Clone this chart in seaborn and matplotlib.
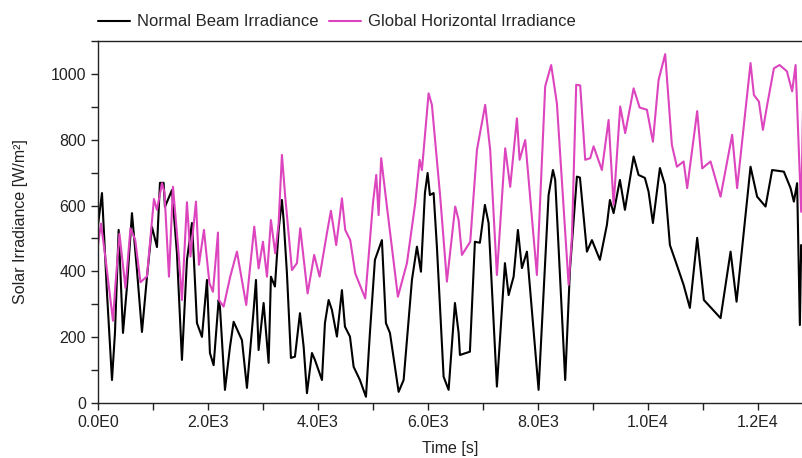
import numpy as np
import pandas as pd

import matplotlib
matplotlib.use("Agg")
import matplotlib.pyplot as plt
import matplotlib.ticker as mticker
import seaborn as sns

# Normal Beam Irradiance (time [s], W/m2)
beam_t = [0, 73, 164, 255, 309, 376, 455, 527, 618, 709, 800, 891, 982, 1073,
          1127, 1194, 1218, 1345, 1436, 1527, 1618, 1709, 1745, 1800, 1891,
          1982, 2036, 2103, 2194, 2218, 2309, 2400, 2467, 2558, 2618, 2709,
          2764, 2831, 2873, 2921, 3012, 3103, 3145, 3218, 3285, 3345, 3376,
          3436, 3509, 3582, 3673, 3740, 3800, 3891, 3945, 4073, 4127, 4194,
          4254, 4345, 4436, 4491, 4582, 4649, 4763, 4873, 4945, 5036, 5163,
          5236, 5309, 5467, 5558, 5709, 5800, 5873, 5945, 5994, 6036, 6103,
          6163, 6285, 6376, 6491, 6558, 6582, 6763, 6854, 6945, 7036, 7103,
          7254, 7400, 7467, 7558, 7636, 7709, 7800, 8012, 8194, 8273, 8314,
          8496, 8582, 8709, 8764, 8891, 8982, 9127, 9254, 9309, 9376, 9491,
          9582, 9740, 9830, 9945, 10012, 10091, 10218, 10309, 10400, 10527,
          10649, 10763, 10896, 11018, 11321, 11503, 11612, 11866, 11986,
          12139, 12259, 12472, 12594, 12654, 12713, 12763, 12787, 12818]
beam_w = [540, 638, 334, 70, 213, 526, 213, 353, 577, 404, 216, 383, 535, 474,
          669, 669, 596, 647, 456, 131, 435, 547, 435, 243, 201,
          374, 152, 115, 313, 292, 40, 170, 247, 213, 191, 46,
          152, 283, 374, 161, 304, 122, 384, 354, 526, 617, 556,
          395, 137, 141, 273, 171, 30, 152, 131, 70, 243, 313,
          283, 202, 343, 232, 202, 110, 70, 19, 213, 435, 495,
          243, 213, 34, 70, 374, 475, 399, 638, 699, 632, 638,
          475, 80, 40, 304, 213, 146, 156, 490, 487, 602, 547,
          50, 425, 328, 384, 526, 410, 460, 40, 632, 708, 678,
          70, 404, 688, 685, 460, 495, 435, 541, 617, 577, 678,
          587, 749, 693, 684, 642, 547, 714, 663, 480, 419,
          359, 289, 502, 313, 258, 460, 308, 718, 627,
          597, 708, 703, 653, 612, 668, 237, 480, 430]

# Global Horizontal Irradiance (time [s], W/m2)
ghi_t = [0, 55, 133, 273, 315, 391, 500, 591, 678, 773, 891, 1018, 1073, 1164,
         1209, 1291, 1364, 1464, 1527, 1618, 1682, 1782, 1836, 1927, 2027,
         2091, 2182, 2200, 2285, 2405, 2527, 2696, 2842, 2921, 3000, 3073,
         3145, 3223, 3285, 3345, 3405, 3527, 3618, 3678, 3812, 3932, 4030,
         4163, 4236, 4332, 4382, 4436, 4496, 4587, 4678, 4860, 5000, 5060,
         5103, 5150, 5254, 5454, 5618, 5769, 5849, 5891, 6012, 6072, 6223,
         6345, 6496, 6558, 6618, 6769, 6891, 7041, 7132, 7254, 7405, 7496,
         7618, 7667, 7769, 7981, 8132, 8241, 8345, 8558, 8618, 8696, 8769,
         8860, 8951, 9012, 9163, 9285, 9376, 9496, 9587, 9740, 9849, 9982,
         10091, 10194, 10314, 10436, 10527, 10649, 10714, 10896, 10987,
         11139, 11321, 11532, 11622, 11866, 11927, 12018, 12091, 12169,
         12291, 12394, 12527, 12623, 12685, 12745, 12787, 12823]
ghi_w = [480, 545, 445, 250, 354, 514, 350, 531, 495, 367, 385, 620, 587, 668,
         640, 384, 657, 460, 313, 610, 445, 612, 420, 526, 364,
         338, 518, 313, 293, 384, 460, 298, 536, 409, 490, 384,
         556, 455, 546, 754, 627, 404, 425, 531, 333, 450, 384,
         516, 584, 480, 546, 622, 526, 495, 394, 318, 607, 693,
         571, 744, 597, 323, 425, 607, 739, 708, 941, 906, 627,
         369, 597, 556, 450, 490, 769, 906, 769, 389, 774, 657,
         865, 739, 799, 389, 962, 1027, 910, 359, 505, 967, 965,
         739, 744, 780, 708, 860, 602, 901, 820, 956, 898, 891,
         794, 982, 1060, 784, 718, 734, 653, 887, 713,
         734, 627, 815, 653, 1033, 936, 916, 830, 906,
         1017, 1027, 1008, 947, 1027, 764, 581, 916]

series_names = ["Normal Beam Irradiance", "Global Horizontal Irradiance"]
colors = ["#000000", "#dc45be"]

df = pd.concat([
    pd.DataFrame({"time": beam_t, "irr": beam_w, "series": series_names[0]}),
    pd.DataFrame({"time": ghi_t, "irr": ghi_w, "series": series_names[1]}),
], ignore_index=True)

sns.set_style("ticks")
plt.rcParams["font.family"] = ["Liberation Sans", "DejaVu Sans"]

fig = plt.figure(figsize=(8.03, 4.58), dpi=100)
ax = fig.add_axes([0.122, 0.12, 0.878, 0.7905])

sns.lineplot(
    data=df, x="time", y="irr", hue="series",
    palette=dict(zip(series_names, colors)),
    estimator=None, sort=False, linewidth=1.5, ax=ax
)


def sci_fmt(v, pos):
    if v == 0:
        return "0.0E0"
    e = int(np.floor(np.log10(abs(v))))
    return f"{v / 10**e:.1f}E{e}"


ax.set_xlim(0, 12820)
ax.set_ylim(0, 1100)
ax.xaxis.set_major_locator(mticker.MultipleLocator(2000))
ax.xaxis.set_minor_locator(mticker.MultipleLocator(1000))
ax.xaxis.set_major_formatter(mticker.FuncFormatter(sci_fmt))
ax.yaxis.set_major_locator(mticker.MultipleLocator(200))
ax.yaxis.set_minor_locator(mticker.MultipleLocator(100))
ax.tick_params(which="both", direction="out", length=5, width=1,
               colors="#222222", labelsize=11.5)

for s in ["left", "bottom", "top"]:
    ax.spines[s].set_visible(True)
    ax.spines[s].set_color("#222222")
    ax.spines[s].set_linewidth(1)
ax.spines["right"].set_visible(False)

ax.set_xlabel("Time [s]", fontsize=11.5, color="#222222", labelpad=8)
ax.set_ylabel("Solar Irradiance [W/m²]", fontsize=11.5, color="#222222",
              labelpad=16)

ax.legend(
    loc="lower left", bbox_to_anchor=(0.0, 1.032), ncol=2, frameon=False,
    fontsize=12, handlelength=1.9, handletextpad=0.42, columnspacing=0.66,
    borderaxespad=0, borderpad=0
)

fig.savefig("out.png", dpi=100)
